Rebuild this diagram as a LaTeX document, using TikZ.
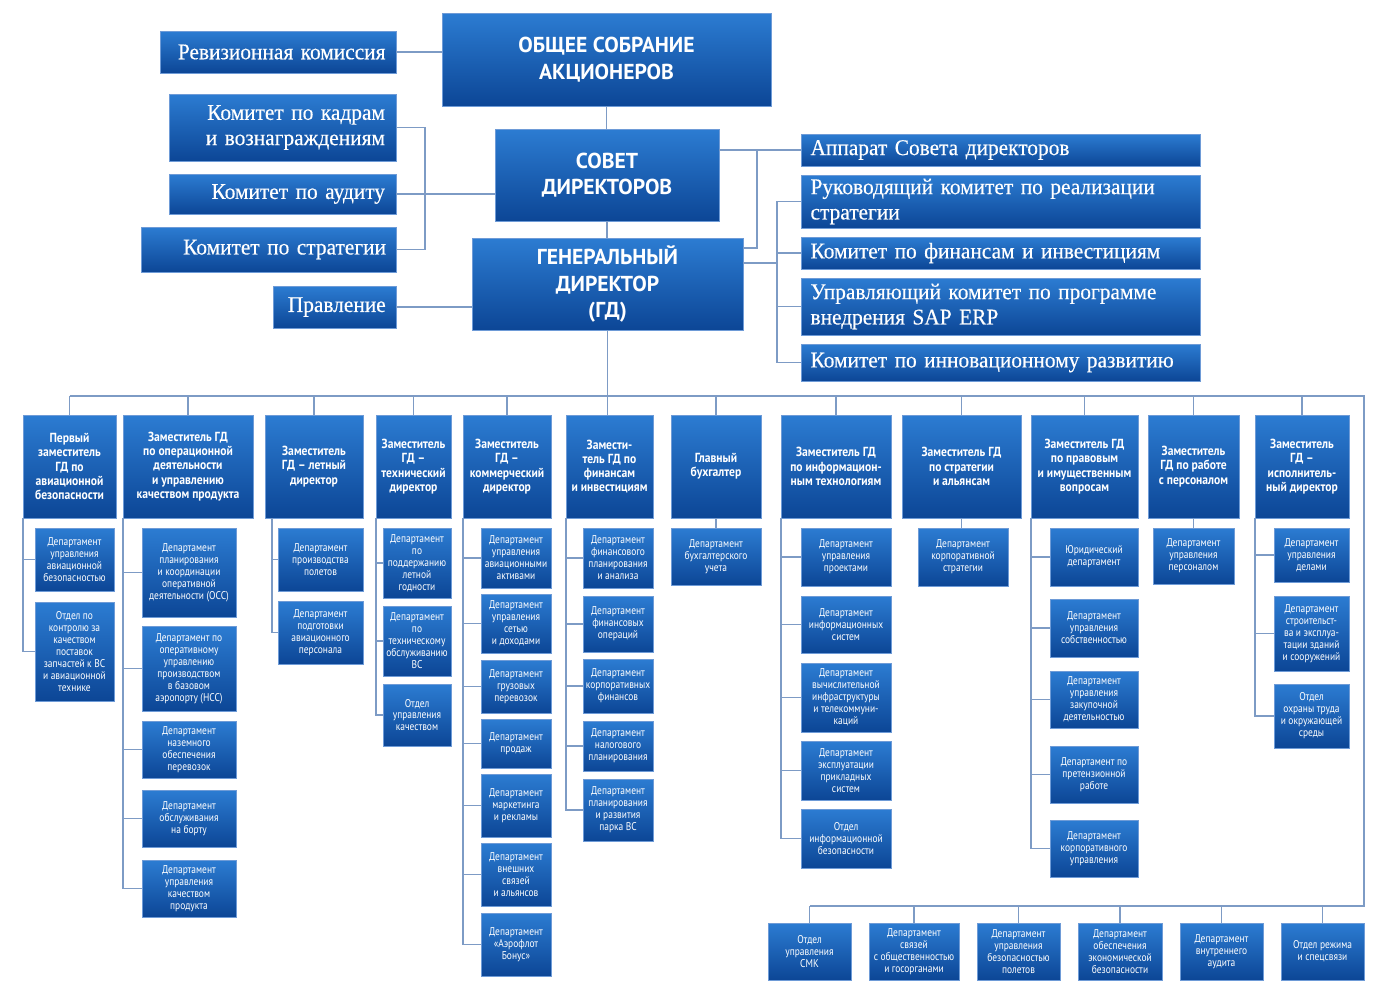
\documentclass[tikz,border=0pt]{standalone}
\usepackage{fontspec}
\setmainfont{PT Sans}
\newfontfamily\cnd[FakeStretch=0.84]{PT Sans}
\newfontfamily\cndb[FakeStretch=0.88]{PT Sans}
\newfontfamily\ttl[FakeStretch=1.0]{PT Sans}
\newfontfamily\srf[FakeStretch=0.95,WordSpace=2.6,FakeBold=0.35]{Liberation Serif}
\usetikzlibrary{shadows}
\definecolor{btop}{RGB}{44,124,210}
\definecolor{bbot}{RGB}{12,70,150}
\definecolor{bedge}{RGB}{110,155,215}
\definecolor{lnc}{RGB}{125,155,197}
\newcommand\mybox[7]{%
  \node[#1, minimum width={(#5-#3)*0.02cm}, minimum height={(#6-#4)*0.02cm}] (#2) at ({(#3+#5)/2},{(#4+#6)/2}) {#7};}
\tikzset{
  box/.style={draw=bedge, line width=0.5pt, top color=btop, bottom color=bbot, text=white, inner sep=0pt,
    drop shadow={opacity=0.25,shadow xshift=0.8pt,shadow yshift=-0.8pt}},
  dep/.style={box, font=\cnd\fontsize{6.4}{6.8}\selectfont, align=center},
  dpt/.style={box, font=\cndb\bfseries\fontsize{7.5}{8.1}\selectfont, align=center},
  topbox/.style={box, font=\ttl\bfseries\fontsize{12.3}{15}\selectfont, align=center},
  com/.style={box, font=\srf\fontsize{12.8}{14.4}\selectfont},
  ln/.style={draw=lnc, line width=1.1pt}
}
\begin{document}
\begin{tikzpicture}[x=0.02cm,y=-0.02cm]
\useasboundingbox[fill=white] (0,0) rectangle (1393,992);
% top
\mybox{topbox}{obs}{442}{13}{771}{106}{ОБЩЕЕ СОБРАНИЕ\\АКЦИОНЕРОВ}
\mybox{topbox}{sov}{495}{129}{719}{221}{СОВЕТ\\ДИРЕКТОРОВ}
\mybox{topbox}{gd}{472}{238}{743}{330}{ГЕНЕРАЛЬНЫЙ\\ДИРЕКТОР\\(ГД)}
% left committees
\mybox{com,align=right,text width=4.3cm}{rev}{160}{31}{396}{73}{Ревизионная комиссия}
\mybox{com,align=right,text width=4.1cm}{kadr}{169}{94}{396}{161}{Комитет по кадрам\\и вознаграждениям}
\mybox{com,align=right,text width=4.1cm}{aud}{169}{174}{396}{214}{Комитет по аудиту}
\mybox{com,align=right,text width=4.7cm}{strat}{141}{227}{396}{272}{Комитет по стратегии}
\mybox{com,align=right,text width=2.05cm}{prav}{273}{286}{396}{328}{Правление}
% right committees
\mybox{com,align=left,text width=7.6cm}{r1}{801}{134}{1200}{166}{Аппарат Совета директоров}
\mybox{com,align=left,text width=7.6cm}{r2}{801}{175}{1200}{228}{Руководящий комитет по реализации\\стратегии}
\mybox{com,align=left,text width=7.6cm}{r3}{801}{237}{1200}{269}{Комитет по финансам и инвестициям}
\mybox{com,align=left,text width=7.6cm}{r4}{801}{278}{1200}{335}{Управляющий комитет по программе\\внедрения SAP ERP}
\mybox{com,align=left,text width=7.6cm}{r5}{801}{344}{1200}{381}{Комитет по инновационному развитию}
% deputies
\mybox{dpt}{d1}{23}{415}{116}{518}{Первый\\заместитель\\ГД по\\авиационной\\безопасности}
\mybox{dpt}{d2}{123}{415}{253}{518}{Заместитель ГД\\по операционной\\деятельности\\и управлению\\качеством продукта}
\mybox{dpt}{d3}{265}{415}{363}{518}{Заместитель\\ГД – летный\\директор}
\mybox{dpt}{d4}{376}{415}{451}{518}{Заместитель\\ГД –\\технический\\директор}
\mybox{dpt}{d5}{463}{415}{551}{518}{Заместитель\\ГД –\\коммерческий\\директор}
\mybox{dpt}{d6}{566}{415}{653}{518}{Замести-\\тель ГД по\\финансам\\и инвестициям}
\mybox{dpt}{d7}{671}{415}{761}{518}{Главный\\бухгалтер}
\mybox{dpt}{d8}{781}{415}{891}{518}{Заместитель ГД\\по информацион-\\ным технологиям}
\mybox{dpt}{d9}{902}{415}{1021}{518}{Заместитель ГД\\по стратегии\\и альянсам}
\mybox{dpt}{d10}{1031}{415}{1138}{518}{Заместитель ГД\\по правовым\\и имущественным\\вопросам}
\mybox{dpt}{d11}{1148}{415}{1239}{518}{Заместитель\\ГД по работе\\с персоналом}
\mybox{dpt}{d12}{1255}{415}{1349}{518}{Заместитель\\ГД –\\исполнитель-\\ный директор}
% departments d1
\mybox{dep}{a1}{35}{528}{114}{591}{Департамент\\управления\\авиационной\\безопасностью}
\mybox{dep}{a2}{35}{602}{114}{701}{Отдел по\\контролю за\\качеством\\поставок\\запчастей к ВС\\и авиационной\\технике}
% d2
\mybox{dep}{b1}{142}{528}{236}{617}{Департамент\\планирования\\и координации\\оперативной\\деятельности (ОСС)}
\mybox{dep}{b2}{142}{626}{236}{711}{Департамент по\\оперативному\\управлению\\производством\\в базовом\\аэропорту (НСС)}
\mybox{dep}{b3}{142}{721}{236}{778}{Департамент\\наземного\\обеспечения\\перевозок}
\mybox{dep}{b4}{142}{790}{236}{847}{Департамент\\обслуживания\\на борту}
\mybox{dep}{b5}{142}{860}{236}{917}{Департамент\\управления\\качеством\\продукта}
% d3
\mybox{dep}{c1}{278}{528}{363}{591}{Департамент\\производства\\полетов}
\mybox{dep}{c2}{278}{601}{363}{664}{Департамент\\подготовки\\авиационного\\персонала}
% d4
\mybox{dep}{e1}{383}{528}{451}{598}{Департамент\\по\\поддержанию\\летной\\годности}
\mybox{dep}{e2}{383}{606}{451}{676}{Департамент\\по\\техническому\\обслуживанию\\ВС}
\mybox{dep}{e3}{383}{684}{451}{746}{Отдел\\управления\\качеством}
% d5
\mybox{dep}{f1}{481}{528}{551}{588}{Департамент\\управления\\авиационными\\активами}
\mybox{dep}{f2}{481}{594}{551}{653}{Департамент\\управления\\сетью\\и доходами}
\mybox{dep}{f3}{481}{660}{551}{713}{Департамент\\грузовых\\перевозок}
\mybox{dep}{f4}{481}{719}{551}{768}{Департамент\\продаж}
\mybox{dep}{f5}{481}{774}{551}{837}{Департамент\\маркетинга\\и рекламы}
\mybox{dep}{f6}{481}{843}{551}{906}{Департамент\\внешних\\связей\\и альянсов}
\mybox{dep}{f7}{481}{913}{551}{976}{Департамент\\«Аэрофлот\\Бонус»}
% d6
\mybox{dep}{g1}{583}{528}{653}{588}{Департамент\\финансового\\планирования\\и анализа}
\mybox{dep}{g2}{583}{596}{653}{652}{Департамент\\финансовых\\операций}
\mybox{dep}{g3}{583}{659}{653}{713}{Департамент\\корпоративных\\финансов}
\mybox{dep}{g4}{583}{721}{653}{771}{Департамент\\налогового\\планирования}
\mybox{dep}{g5}{583}{779}{653}{841}{Департамент\\планирования\\и развития\\парка ВС}
% d7
\mybox{dep}{h1}{671}{528}{761}{585}{Департамент\\бухгалтерского\\учета}
% d8
\mybox{dep}{i1}{801}{528}{891}{586}{Департамент\\управления\\проектами}
\mybox{dep}{i2}{801}{596}{891}{653}{Департамент\\информационных\\систем}
\mybox{dep}{i3}{801}{663}{891}{732}{Департамент\\вычислительной\\инфраструктуры\\и телекоммуни-\\каций}
\mybox{dep}{i4}{801}{741}{891}{800}{Департамент\\эксплуатации\\прикладных\\систем}
\mybox{dep}{i5}{801}{809}{891}{868}{Отдел\\информационной\\безопасности}
% d9
\mybox{dep}{j1}{918}{528}{1008}{586}{Департамент\\корпоративной\\стратегии}
% d10
\mybox{dep}{k1}{1050}{528}{1138}{586}{Юридический\\департамент}
\mybox{dep}{k2}{1050}{599}{1138}{657}{Департамент\\управления\\собственностью}
\mybox{dep}{k3}{1050}{671}{1138}{728}{Департамент\\управления\\закупочной\\деятельностью}
\mybox{dep}{k4}{1050}{746}{1138}{803}{Департамент по\\претензионной\\работе}
\mybox{dep}{k5}{1050}{820}{1138}{877}{Департамент\\корпоративного\\управления}
% d11
\mybox{dep}{l1}{1153}{528}{1234}{584}{Департамент\\управления\\персоналом}
% d12
\mybox{dep}{m1}{1274}{528}{1349}{582}{Департамент\\управления\\делами}
\mybox{dep}{m2}{1274}{596}{1349}{671}{Департамент\\строительст-\\ва и эксплуа-\\тации зданий\\и сооружений}
\mybox{dep}{m3}{1274}{684}{1349}{748}{Отдел\\охраны труда\\и окружающей\\среды}
% bottom row
\mybox{dep}{n1}{768}{923}{851}{980}{Отдел\\управления\\СМК}
\mybox{dep}{n2}{869}{923}{959}{980}{Департамент\\связей\\с общественностью\\и госорганами}
\mybox{dep}{n3}{977}{923}{1060}{980}{Департамент\\управления\\безопасностью\\полетов}
\mybox{dep}{n4}{1078}{923}{1162}{980}{Департамент\\обеспечения\\экономической\\безопасности}
\mybox{dep}{n5}{1180}{923}{1263}{980}{Департамент\\внутреннего\\аудита}
\mybox{dep}{n6}{1281}{923}{1364}{980}{Отдел режима\\и спецсвязи}
% helper coordinates
\coordinate (kb) at (425,0);
\coordinate (sk) at (757,0);
\coordinate (rb) at (777,0);
\coordinate (bus) at (0,396);
\coordinate (busR) at (1364,396);
\coordinate (busB) at (1364,906);
% top connectors
\draw[ln] (rev.east) -- (rev.east -| obs.west);
\draw[ln] (obs.south) -- (obs.south |- sov.north);
\draw[ln] (sov.south) -- (sov.south |- gd.north);
\draw[ln] (kadr.east) -- (kadr.east -| kb) |- (strat.east);
\draw[ln] (aud.east) -- (aud.east -| sov.west);
\draw[ln] (prav.east) -- (prav.east -| gd.west);
\draw[ln] (r1.west) -- (r1.west -| sov.east);
\draw[ln] (r1.west -| sk) |- ([yshift=-0.2cm]gd.north east);
\draw[ln] ([yshift=-0.5cm]gd.north east) -- ([yshift=-0.5cm]gd.north east -| rb);
\draw[ln] (r2.west) -| (r5.west -| rb) -- (r5.west);
\draw[ln] (r3.west) -- (r3.west -| rb);
\draw[ln] (r4.west) -- (r4.west -| rb);
% buses
\draw[ln] (gd.south) -- (gd.south |- d6.north);
\draw[ln] (d1.north |- bus) -- (busR) -- (busB) -- (n1.north |- busB);
\foreach \n in {d1,d2,d3,d4,d5,d7,d8,d9,d10,d11,d12}
  \draw[ln] (\n.north) -- (\n.north |- bus);
\foreach \n in {n1,n2,n3,n4,n5,n6}
  \draw[ln] (\n.north) -- (\n.north |- busB);
% department hooks
\foreach \n in {a1,a2} \draw[ln] (\n.west) -| (d1.south west);
\foreach \n in {b1,b2,b3,b4,b5} \draw[ln] (\n.west) -| (d2.south west);
\foreach \n in {c1,c2} \draw[ln] (\n.west) -| ([xshift=0.14cm]d3.south west);
\foreach \n in {e1,e2,e3} \draw[ln] (\n.west) -| (d4.south west);
\foreach \n in {f1,f2,f3,f4,f5,f6,f7} \draw[ln] (\n.west) -| (d5.south west);
\foreach \n in {g1,g2,g3,g4,g5} \draw[ln] (\n.west) -| (d6.south west);
\foreach \n in {i1,i2,i3,i4,i5} \draw[ln] (\n.west) -| (d8.south west);
\foreach \n in {k1,k2,k3,k4,k5} \draw[ln] (\n.west) -| (d10.south west);
\foreach \n in {m1,m2,m3} \draw[ln] (\n.west) -| (d12.south west);
\draw[ln] (d7.south) -- (h1.north);
\draw[ln] (d9.south) -- (d9.south |- j1.north);
\draw[ln] (d11.south) -- (l1.north);
\end{tikzpicture}
\end{document}
